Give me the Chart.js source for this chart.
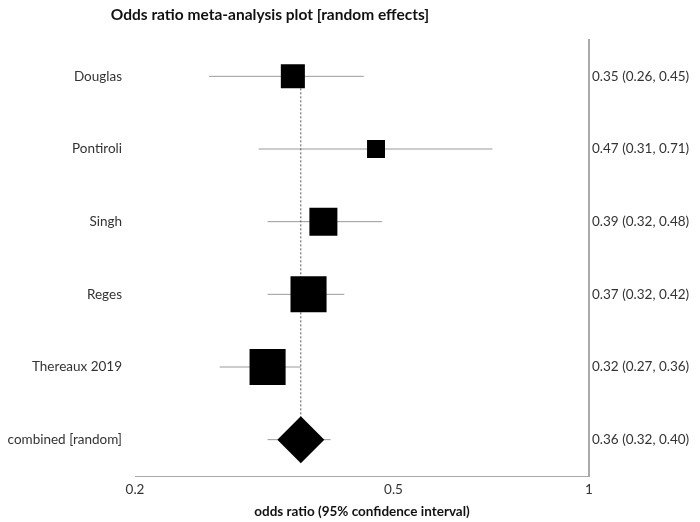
<!DOCTYPE html>
<html>
<head>
<meta charset="utf-8">
<script src="https://cdn.jsdelivr.net/npm/chart.js@4.4.1/dist/chart.umd.min.js"></script>
<style>
  html, body { margin: 0; padding: 0; background: #fff; }
  #wrap { position: relative; width: 700px; height: 522px; }
  #title {
    position: absolute; top: 5px; left: 0; width: 540px;
    text-align: center; font: bold 15.5px Lato, sans-serif; color: #111;
  }
</style>
</head>
<body>
<div id="wrap">
  <div id="title">Odds ratio meta-analysis plot [random effects]</div>
  <canvas id="forest" width="700" height="522"></canvas>
</div>
<script>
// studies, top to bottom
const studies = ["Douglas", "Pontiroli", "Singh", "Reges", "Thereaux 2019", "combined [random]"];
const oddsRatio = [0.35, 0.47, 0.39, 0.37, 0.32, 0.36];
const ciLow = [0.26, 0.31, 0.32, 0.32, 0.27, 0.32];
const ciHigh = [0.45, 0.71, 0.48, 0.42, 0.36, 0.40];
const summaryLabels = [
  "0.35 (0.26, 0.45)",
  "0.47 (0.31, 0.71)",
  "0.39 (0.32, 0.48)",
  "0.37 (0.32, 0.42)",
  "0.32 (0.27, 0.36)",
  "0.36 (0.32, 0.40)"
];
const xTicks = [0.2, 0.5, 1];

// marker radius (chart.js units) per row, last one is the diamond
const markerRadius = [17, 12.7, 19.8, 25.5, 25.5, 23.5];
const pooled = oddsRatio[oddsRatio.length - 1];

const font = "Lato";

const whiskers = studies.map((s, i) => ({
  data: [{ x: ciLow[i], y: s }, { x: ciHigh[i], y: s }],
  showLine: true,
  borderColor: "#9a9a9a",
  borderWidth: 1,
  pointRadius: 0,
  order: 2
}));

const chart = new Chart(document.getElementById("forest"), {
  type: "scatter",
  data: {
    datasets: [
      {
        data: studies.map((s, i) => ({ x: oddsRatio[i], y: s })),
        pointStyle: studies.map((s, i) => i === studies.length - 1 ? "rectRot" : "rect"),
        pointRadius: markerRadius,
        backgroundColor: "#000",
        borderColor: "#000",
        borderWidth: 0,
        order: 0
      },
      {
        data: [{ x: pooled, y: studies[0] }, { x: pooled, y: studies[studies.length - 1] }],
        showLine: true,
        borderColor: "#555",
        borderWidth: 1,
        borderDash: [2, 2],
        pointRadius: 0,
        order: 1
      },
      ...whiskers
    ]
  },
  options: {
    responsive: false,
    animation: false,
    layout: { padding: { top: 40, left: 0, right: 0, bottom: 0 } },
    plugins: {
      legend: { display: false },
      tooltip: { enabled: false }
    },
    scales: {
      x: {
        type: "logarithmic",
        min: 0.2,
        max: 1,
        afterBuildTicks: (axis) => { axis.ticks = xTicks.map(v => ({ value: v })); },
        afterFit: (axis) => { axis.height = 46; },
        grid: { display: true, drawOnChartArea: false, drawTicks: false, color: "#aaa" },
        border: { display: true, color: "#aaa", width: 1 },
        ticks: {
          padding: 6,
          color: "#333",
          font: { family: font, size: 13.5 },
          maxRotation: 0,
          callback: (v) => String(v)
        },
        title: {
          display: true,
          text: "odds ratio (95% confidence interval)",
          color: "#111",
          font: { family: font, size: 13.5, weight: "bold" },
          padding: { top: 0, bottom: 2 }
        }
      },
      y: {
        type: "category",
        labels: studies,
        offset: true,
        position: "left",
        afterFit: (axis) => { axis.width = 135; },
        grid: { display: false, drawTicks: false },
        border: { display: false },
        ticks: {
          padding: 13,
          color: "#333",
          font: { family: font, size: 13.5 }
        }
      },
      y2: {
        type: "category",
        labels: summaryLabels,
        offset: true,
        position: "right",
        afterFit: (axis) => { axis.width = 111; },
        grid: { display: false, drawTicks: false },
        border: { display: true, color: "#aaa", width: 2 },
        ticks: {
          padding: 3,
          color: "#333",
          font: { family: font, size: 13.5 }
        }
      }
    }
  }
});
</script>
</body>
</html>
